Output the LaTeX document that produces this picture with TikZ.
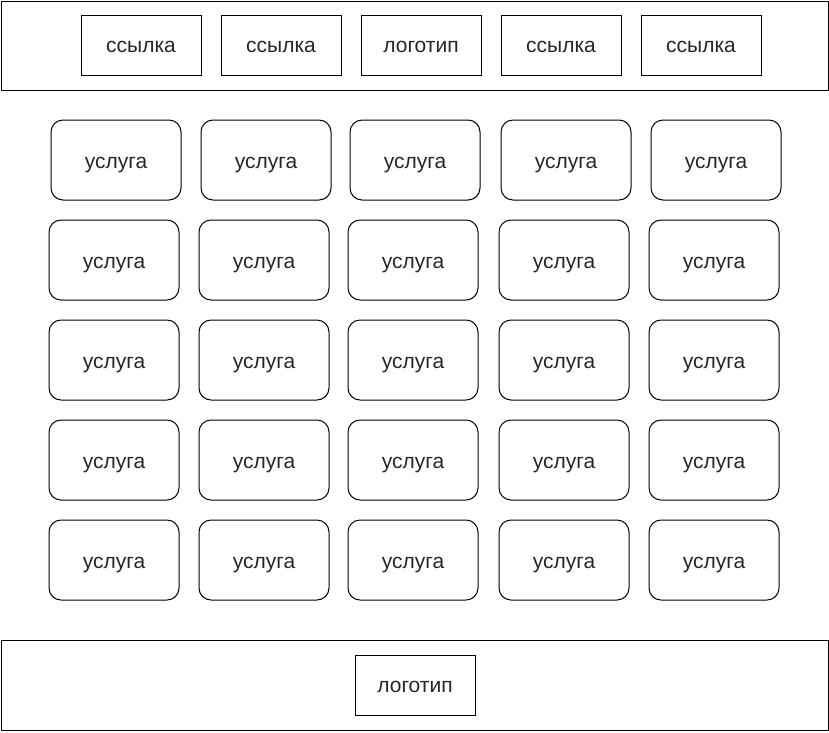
\documentclass[tikz,border=0pt]{standalone}
\usepackage{fontspec}
\setmainfont{Liberation Sans}
\begin{document}
\begin{tikzpicture}[x=1pt,y=-1pt,
  frame/.style={draw=black,line width=1pt},
  lbl/.style={inner sep=0pt,font=\fontsize{21}{25}\selectfont,text=black!85},
  linkbox/.style={lbl,text height=21pt,text depth=6pt,draw=black,line width=1pt,minimum width=120pt,minimum height=60pt},
  svcbox/.style={lbl,text height=22pt,text depth=5pt,draw=black,line width=1pt,rounded corners=12pt,minimum width=130pt,minimum height=80pt}]
\useasboundingbox (0,0) rectangle (829,732);
\draw[frame] (1,1) rectangle (828,90);
\node[linkbox] (l1) at (141,45) {ссылка};
\node[linkbox] (l2) at (281,45) {ссылка};
\node[linkbox] (logo1) at (421,45) {логотип};
\node[linkbox] (l3) at (561,45) {ссылка};
\node[linkbox] (l4) at (701,45) {ссылка};
% row 1
\foreach \x [count=\i] in {51,201,350,501,651}{
  \node[svcbox] (s1\i) at (\x+65,160) {услуга};
}
\foreach \y [count=\r from 2] in {260,360,460,560}{
  \foreach \x [count=\i] in {49,199,348,499,649}{
    \node[svcbox] (s\r\i) at (\x+65,\y) {услуга};
  }
}
\draw[frame] (1,640) rectangle (828,730);
\node[linkbox] (logo2) at (415,685) {логотип};
\end{tikzpicture}
\end{document}
